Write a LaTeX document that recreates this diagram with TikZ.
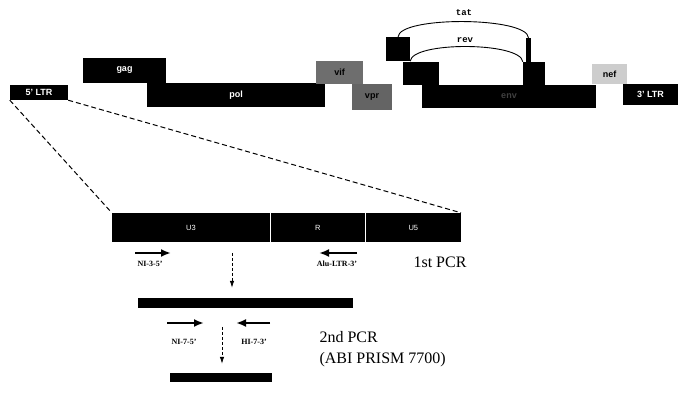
\documentclass[tikz,border=0pt]{standalone}
\usepackage{fontspec}
\setmainfont{Liberation Serif}
\setsansfont{Liberation Sans}
\setmonofont{Liberation Mono}
\usetikzlibrary{arrows.meta, positioning, calc}
\definecolor{cVif}{RGB}{110,110,110}
\definecolor{cVpr}{RGB}{100,100,100}
\definecolor{cNef}{RGB}{205,205,205}

\begin{document}
\begin{tikzpicture}[x=1pt, y=-1pt,
            gene/.style={rectangle, draw=none, inner sep=0pt, font=\sffamily\bfseries\fontsize{9}{10}\selectfont},
            seg/.style={rectangle, fill=black, text=white, inner sep=0pt, minimum height=29pt, font=\sffamily\fontsize{7.5}{8}\selectfont},
            arclbl/.style={font=\ttfamily\bfseries\fontsize{9}{10}\selectfont},
            zoomline/.style={dash pattern=on 5pt off 3pt, line width=1pt},
            primer/.style={line width=2.2pt, -{Latex[length=10pt,width=8pt]}},
            plbl/.style={font=\bfseries\fontsize{8}{9}\selectfont},
            down/.style={densely dashed, line width=0.8pt, -{Latex[length=7pt,width=4.5pt]}},
            prod/.style={rectangle, fill=black, inner sep=0pt},
            pcr/.style={font=\fontsize{16}{21}\selectfont, align=left, anchor=west}]
            \useasboundingbox (0,0) rectangle (681,398);
            % genome map
            \foreach \n/\x/\y/\w/\h/\c/\t/\l in {ltr5/39/92.5/58/15/black/white/{5' LTR},
                    gag/124.5/70.5/83/25/black/white/gag, pol/236/95/178/24/black/white/pol,
                    vif/339.5/72.5/47/23/cVif/black/vif, vpr/372/97/40/26/cVpr/black/vpr,
                    tat1/398/49/24/24/black/white/{}, rev1/421/73.5/36/23/black/white/{},
                    env/509/96.5/174/23/black/black!75/env, ex2/534/73.5/22/23/black/white/{},
                    nef/609.5/74/35/20/cNef/black/nef, ltr3/650.5/94.5/55/21/black/white/{3' LTR}}{
                \node[gene, fill=\c, text=\t, minimum width=\w pt, minimum height=\h pt] (\n) at (\x,\y) {\l};}
            \node[gene, fill=black, minimum width=5pt, minimum height=24pt] (tatbar) at (528.5,50) {};
            \draw[line width=0.9pt] (tat1.north) .. controls +(2,-21) and +(-1,-21) .. (tatbar.north);
            \draw[line width=0.9pt] (tat1.south east) .. controls +(2,-20) and +(-2,-20) .. (ex2.north west);
            \node[arclbl] (tatlbl) at (464,13) {tat};
            \node[arclbl] (revlbl) at (465,40) {rev};
            % LTR enlarged
            \node[seg, minimum width=158pt] (u3) at (191,227.5) {U3};
            \node[seg, minimum width=95pt, right=0pt of u3] (r) {R};
            \node[seg, minimum width=95pt, right=0pt of r] (u5) {U5};
            \draw[white, line width=0.4pt] (u3.north east) -- (u3.south east) (r.north east) -- (r.south east);
            \draw[zoomline] (ltr5.south west) -- (u3.north west);
            \draw[zoomline] (ltr5.south east) -- (u5.north east);
            % 1st PCR
            \coordinate (ni35a) at (135,253); \coordinate (ni35b) at (171,253);
            \coordinate (alua) at (357,253);  \coordinate (alub) at (319,253);
            \draw[primer] (ni35a) -- (ni35b);
            \draw[primer] (alua) -- (alub);
            \node[plbl] (ni35) at (150,264) {NI-3-5'};
            \node[plbl] (alu) at (337,264) {Alu-LTR-3'};
            \node[pcr] (pcr1) at (410,262) {1st PCR};
            \node[prod, minimum width=215pt, minimum height=10pt] (prod1) at (245.5,303) {};
            \coordinate (d1) at (232,253);
            \draw[down] (d1) -- ($(d1 |- prod1.north)+(0,-10)$);
            % 2nd PCR
            \coordinate (ni75a) at (167,323); \coordinate (ni75b) at (204,323);
            \coordinate (hi73a) at (270,323); \coordinate (hi73b) at (236,323);
            \draw[primer] (ni75a) -- (ni75b);
            \draw[primer] (hi73a) -- (hi73b);
            \node[plbl] (ni75) at (184,342) {NI-7-5'};
            \node[plbl] (hi73) at (254,342) {HI-7-3'};
            \node[pcr] (pcr2) at (316,349) {2nd PCR\\(ABI PRISM 7700)};
            \node[prod, minimum width=102pt, minimum height=9pt] (prod2) at (221,377.5) {};
            \coordinate (d2) at (222,327);
            \draw[down] (d2) -- ($(d2 |- prod2.north)+(0,-9)$);
        \end{tikzpicture}
\end{document}
